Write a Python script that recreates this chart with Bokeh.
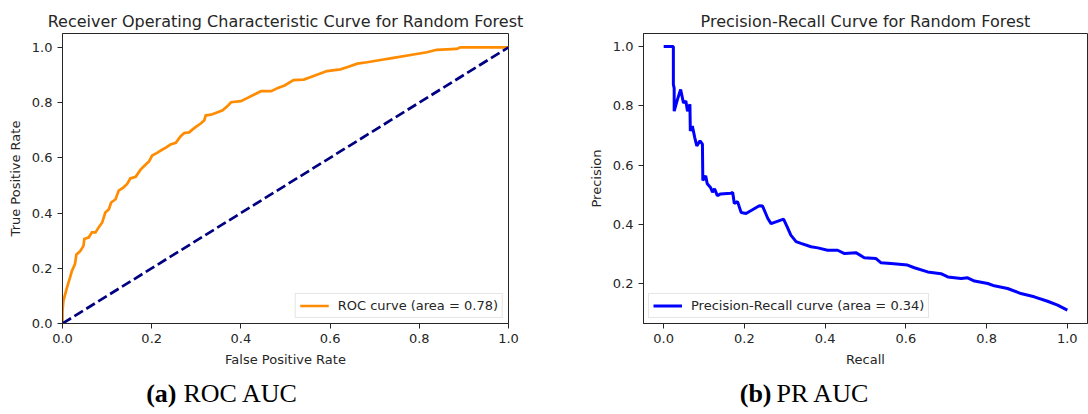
import numpy as np
from bokeh.plotting import figure
from bokeh.layouts import column, row
from bokeh.models import Range1d, FixedTicker, PrintfTickFormatter
from bokeh.embed import file_html
from bokeh.resources import INLINE

# ROC curve of the random forest classifier
fpr = [0.0, 0.0, 0.002, 0.010, 0.017, 0.021, 0.028, 0.031, 0.040, 0.047, 0.049,
       0.059, 0.066, 0.074, 0.081, 0.089, 0.096, 0.104, 0.109, 0.119, 0.126,
       0.137, 0.145, 0.152, 0.164, 0.175, 0.186, 0.194, 0.201, 0.212, 0.224,
       0.231, 0.242, 0.254, 0.265, 0.273, 0.284, 0.291, 0.299, 0.310, 0.318,
       0.321, 0.333, 0.348, 0.359, 0.370, 0.378, 0.400, 0.415, 0.430, 0.445,
       0.468, 0.483, 0.498, 0.518, 0.541, 0.563, 0.578, 0.593, 0.623, 0.638,
       0.661, 0.683, 0.713, 0.742, 0.787, 0.817, 0.839, 0.884, 0.892, 1.0]
tpr = [0.0, 0.046, 0.082, 0.130, 0.167, 0.190, 0.215, 0.249, 0.263, 0.281, 0.306,
       0.312, 0.330, 0.330, 0.348, 0.366, 0.402, 0.414, 0.438, 0.450, 0.481,
       0.493, 0.505, 0.525, 0.531, 0.557, 0.575, 0.587, 0.608, 0.618, 0.630,
       0.636, 0.648, 0.654, 0.678, 0.690, 0.692, 0.702, 0.712, 0.724, 0.736,
       0.753, 0.756, 0.765, 0.772, 0.787, 0.801, 0.805, 0.817, 0.829, 0.841,
       0.841, 0.853, 0.862, 0.881, 0.883, 0.896, 0.905, 0.914, 0.920, 0.928,
       0.941, 0.946, 0.954, 0.962, 0.974, 0.982, 0.991, 0.994, 1.0, 1.0]
chance = [0.0, 1.0]

# Precision-recall curve of the same classifier
recall = [0.0, 0.024, 0.024, 0.026, 0.026, 0.034, 0.042, 0.049, 0.055, 0.059,
          0.065, 0.066, 0.071, 0.077, 0.082, 0.090, 0.096, 0.097, 0.104, 0.108,
          0.116, 0.121, 0.126, 0.133, 0.141, 0.166, 0.171, 0.175, 0.183, 0.192,
          0.204, 0.237, 0.245, 0.258, 0.266, 0.278, 0.297, 0.306, 0.315, 0.328,
          0.340, 0.365, 0.382, 0.406, 0.431, 0.448, 0.476, 0.497, 0.526, 0.538,
          0.563, 0.604, 0.621, 0.654, 0.687, 0.704, 0.737, 0.753, 0.770, 0.803,
          0.819, 0.852, 0.885, 0.918, 0.951, 0.976, 1.0]
precision = [1.0, 1.0, 0.872, 0.860, 0.782, 0.821, 0.855, 0.810, 0.816, 0.782,
             0.805, 0.715, 0.732, 0.693, 0.665, 0.682, 0.671, 0.548, 0.564, 0.537,
             0.525, 0.509, 0.520, 0.497, 0.503, 0.505, 0.508, 0.471, 0.477, 0.440,
             0.437, 0.463, 0.462, 0.420, 0.403, 0.409, 0.418, 0.392, 0.364, 0.342,
             0.336, 0.325, 0.321, 0.313, 0.313, 0.302, 0.305, 0.288, 0.285, 0.271,
             0.268, 0.263, 0.254, 0.240, 0.234, 0.223, 0.218, 0.220, 0.209, 0.201,
             0.193, 0.184, 0.167, 0.156, 0.141, 0.128, 0.111]

unit_ticks = [0.0, 0.2, 0.4, 0.6, 0.8, 1.0]
pr_y_ticks = [0.2, 0.4, 0.6, 0.8, 1.0]

tags = ["(a)", "(b)"]
captions = ["ROC AUC", "PR AUC"]

roc_auc = float(np.trapezoid(tpr, fpr))
pr_auc = float(np.trapezoid(precision, recall))

FONT = "DejaVu Sans"
INK = "#262626"


def style(p, xlabel, ylabel, xticks, yticks):
    p.title.text_font = FONT
    p.title.text_font_size = "16px"
    p.title.text_font_style = "normal"
    p.title.text_color = INK
    p.title.align = "center"
    p.title.standoff = 6
    p.outline_line_color = INK
    p.outline_line_width = 1
    p.outline_line_alpha = 1
    p.xgrid.visible = False
    p.ygrid.visible = False
    p.xaxis.axis_label = xlabel
    p.yaxis.axis_label = ylabel
    p.xaxis.ticker = FixedTicker(ticks=xticks)
    p.yaxis.ticker = FixedTicker(ticks=yticks)
    for ax in p.axis:
        ax.formatter = PrintfTickFormatter(format="%.1f")
        ax.major_tick_out = 5
        ax.major_tick_in = 0
        ax.minor_tick_out = 0
        ax.minor_tick_in = 0
        ax.axis_line_color = INK
        ax.major_tick_line_color = INK
        ax.major_label_text_font = FONT
        ax.major_label_text_font_size = "13px"
        ax.major_label_text_color = INK
        ax.major_label_standoff = 5
        ax.axis_label_text_font = FONT
        ax.axis_label_text_font_size = "13px"
        ax.axis_label_text_font_style = "normal"
        ax.axis_label_text_color = INK
        ax.axis_label_standoff = 6
    p.yaxis.major_label_orientation = "horizontal"


def style_legend(p, location):
    lg = p.legend[0]
    lg.location = location
    lg.margin = 5
    lg.padding = 4
    lg.spacing = 0
    lg.glyph_width = 29
    lg.glyph_height = 15
    lg.label_height = 15
    lg.label_standoff = 9
    lg.label_text_font = FONT
    lg.label_text_font_size = "13px"
    lg.label_text_color = INK
    lg.border_line_color = "#cccccc"
    lg.border_line_width = 1
    lg.background_fill_color = "white"
    lg.background_fill_alpha = 0.8


roc = figure(width=580, height=372, output_backend="svg", toolbar_location=None,
             title="Receiver Operating Characteristic Curve for Random Forest",
             x_range=Range1d(0.0, 1.0), y_range=Range1d(0.0, 1.05),
             min_border_left=62, min_border_right=72, min_border_top=33,
             min_border_bottom=49)
roc.line(fpr, tpr, line_color="#ff8c00", line_width=2.7, line_join="miter",
         legend_label=f"ROC curve (area = {roc_auc:.2f})")
roc.line(chance, chance, line_color="#000080", line_width=2.7, line_dash="10 4")
style(roc, "False Positive Rate", "True Positive Rate", unit_ticks, unit_ticks)
style_legend(roc, "bottom_right")

pr = figure(width=508, height=372, output_backend="svg", toolbar_location=None,
            title="Precision-Recall Curve for Random Forest",
            x_range=Range1d(-0.05, 1.05), y_range=Range1d(0.066, 1.044),
            min_border_left=63, min_border_right=1, min_border_top=33,
            min_border_bottom=49)
pr.line(recall, precision, line_color="#0000ff", line_width=3,
        legend_label=f"Precision-Recall curve (area = {pr_auc:.2f})")
style(pr, "Recall", "Precision", unit_ticks, pr_y_ticks)
style_legend(pr, "bottom_left")

# Sub-figure captions, laid out in pixel coordinates
cap = figure(width=1088, height=42, output_backend="svg", toolbar_location=None,
             x_range=Range1d(0, 1088), y_range=Range1d(0, 42),
             x_axis_type=None, y_axis_type=None, min_border=0,
             title_location=None)
cap.title = None
cap.outline_line_color = None
cap.xgrid.visible = False
cap.ygrid.visible = False
cap.text(x=[176, 771], y=[21, 21], text=tags, text_font="Liberation Serif",
         text_font_size="26px", text_font_style="bold", text_align="right",
         text_baseline="middle", text_color="black")
cap.text(x=[183, 776], y=[21, 21], text=captions, text_font="Liberation Serif",
         text_font_size="26px", text_font_style="normal", text_align="left",
         text_baseline="middle", text_color="black")

layout = column(row(roc, pr), cap)

with open("out.html", "w") as f:
    f.write(file_html(layout, INLINE))
